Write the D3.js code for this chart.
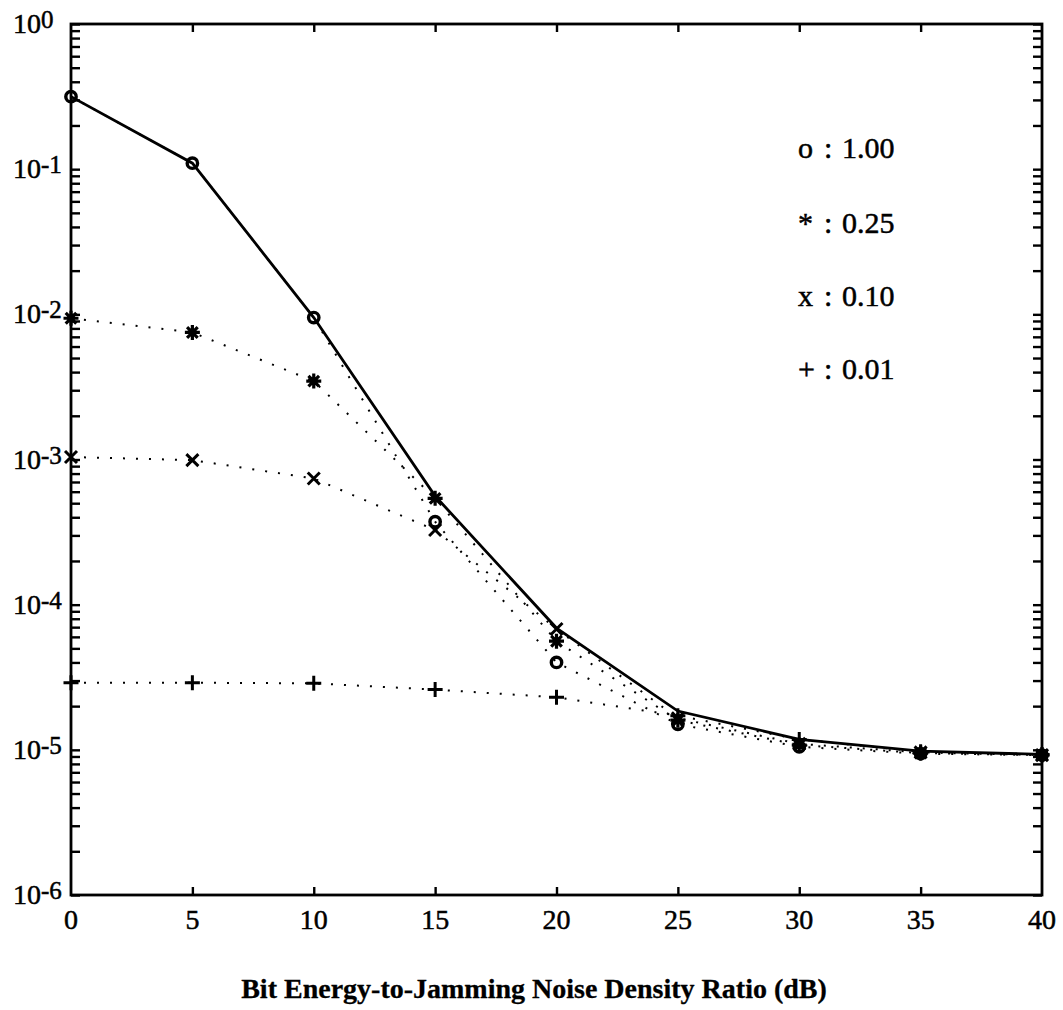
<!DOCTYPE html>
<html>
<head>
<meta charset="utf-8">
<script src="https://cdn.jsdelivr.net/npm/d3@7"></script>
<style>
  html, body { margin: 0; padding: 0; background: #fff; }
  svg { display: block; }
  text { font-family: "Liberation Serif", "Times New Roman", serif; fill: #000; stroke: #000; stroke-width: 0.5px; }
</style>
</head>
<body>
<svg id="chart" width="1063" height="1010"></svg>
<script>
// Eb/NJ in dB
const snrDb = [0, 5, 10, 15, 20, 25, 30, 35, 40];

// reference curve (solid)
const solidCurve = [0.316, 0.11, 0.0095, 0.00056, 6.9e-5, 1.85e-5, 1.18e-5, 9.8e-6, 9.3e-6];

// bit error rate for each jamming fraction rho (dotted)
const berRho100 = [0.316, 0.11, 0.0095, 0.000373, 4.0e-5, 1.5e-5, 1.05e-5, 9.4e-6, 9.2e-6];
const berRho025 = [0.0094, 0.0075, 0.00347, 0.00054, 5.6e-5, 1.6e-5, 1.08e-5, 9.5e-6, 9.2e-6];
const berRho010 = [0.00104, 0.00099, 0.00074, 0.000327, 6.8e-5, 1.65e-5, 1.1e-5, 9.6e-6, 9.2e-6];
const berRho001 = [2.9e-5, 2.9e-5, 2.87e-5, 2.6e-5, 2.3e-5, 1.72e-5, 1.18e-5, 9.7e-6, 9.3e-6];

const legendSymbols = ["o", "*", "x", "+"];
const legendValues = ["1.00", "0.25", "0.10", "0.01"];

const xTickValues = [0, 5, 10, 15, 20, 25, 30, 35, 40];
const yDecadeExps = [0, -1, -2, -3, -4, -5, -6];
const xAxisTitle = "Bit Energy-to-Jamming Noise Density Ratio (dB)";

const svg = d3.select("#chart");
const plotLeft = 71, plotRight = 1042, plotTop = 24, plotBottom = 895;

const x = d3.scaleLinear().domain([0, 40]).range([plotLeft, plotRight]);
const y = d3.scaleLog().domain([1e-6, 1]).range([plotBottom, plotTop]);

svg.append("rect").attr("width", 1063).attr("height", 1010).attr("fill", "#fff");

// minor + major log ticks
const yTicks = [];
for (let e = -6; e < 0; e++) {
  for (let k = 1; k <= 9; k++) yTicks.push(k * Math.pow(10, e));
}
yTicks.push(1);
const xInner = xTickValues.filter(v => v > 0 && v < 40);

const tickStyle = g => {
  g.select(".domain").remove();
  g.selectAll(".tick line").attr("stroke", "#000").attr("stroke-width", 2.4);
  g.selectAll(".tick text").remove();
};

svg.append("g").attr("transform", `translate(${plotLeft},0)`)
  .call(d3.axisLeft(y).tickValues(yTicks).tickSizeInner(-9).tickSizeOuter(0).tickFormat(""))
  .call(tickStyle);
svg.append("g").attr("transform", `translate(${plotRight},0)`)
  .call(d3.axisRight(y).tickValues(yTicks).tickSizeInner(-9).tickSizeOuter(0).tickFormat(""))
  .call(tickStyle);
svg.append("g").attr("transform", `translate(0,${plotBottom})`)
  .call(d3.axisBottom(x).tickValues(xInner).tickSizeInner(-8).tickSizeOuter(0).tickFormat(""))
  .call(tickStyle);
svg.append("g").attr("transform", `translate(0,${plotTop})`)
  .call(d3.axisTop(x).tickValues(xInner).tickSizeInner(-8).tickSizeOuter(0).tickFormat(""))
  .call(tickStyle);

// frame
svg.append("rect")
  .attr("x", plotLeft).attr("y", plotTop)
  .attr("width", plotRight - plotLeft).attr("height", plotBottom - plotTop)
  .attr("fill", "none").attr("stroke", "#000").attr("stroke-width", 2.8);

// y labels: 10 with raised exponent
const yl = svg.append("g");
yDecadeExps.forEach(e => {
  const t = yl.append("text")
    .attr("x", 13).attr("y", y(Math.pow(10, e)) + 9)
    .attr("font-size", 28);
  t.append("tspan").text("10");
  t.append("tspan").attr("dy", -5).attr("font-size", 25).text(String(e));
});

// x labels
svg.append("g").selectAll("text").data(xTickValues).join("text")
  .attr("x", d => x(d)).attr("y", 929)
  .attr("text-anchor", "middle").attr("font-size", 28)
  .text(d => d);

svg.append("text")
  .attr("x", 534).attr("y", 998)
  .attr("text-anchor", "middle").attr("font-size", 28).attr("font-weight", "bold")
  .style("stroke-width", "0.3px")
  .text(xAxisTitle);

// lines
const line = d3.line().x((d, i) => x(snrDb[i])).y(d => y(d));
const dotted = [berRho100, berRho025, berRho010, berRho001];
dotted.forEach(s => {
  svg.append("path").datum(s).attr("d", line)
    .attr("fill", "none").attr("stroke", "#000")
    .attr("stroke-width", 2).attr("stroke-dasharray", "2 11");
});
svg.append("path").datum(solidCurve).attr("d", line)
  .attr("fill", "none").attr("stroke", "#000").attr("stroke-width", 2.8);

// markers
const markerPath = {
  "*": () => {
    const p = d3.path(), r = 7.5;
    [0, 45, 90, 135].forEach(a => {
      const c = Math.cos(a * Math.PI / 180) * r, s = Math.sin(a * Math.PI / 180) * r;
      p.moveTo(-c, -s); p.lineTo(c, s);
    });
    return p;
  },
  x: () => {
    const p = d3.path(), r = 6;
    p.moveTo(-r, -r); p.lineTo(r, r); p.moveTo(-r, r); p.lineTo(r, -r);
    return p;
  },
  "+": () => {
    const p = d3.path(), r = 7.5;
    p.moveTo(-r, 0); p.lineTo(r, 0); p.moveTo(0, -r); p.lineTo(0, r);
    return p;
  }
};

dotted.forEach((s, si) => {
  const sym = legendSymbols[si];
  const g = svg.append("g");
  s.forEach((v, i) => {
    const cx = x(snrDb[i]), cy = y(v);
    if (sym === "o") {
      g.append("circle").attr("cx", cx).attr("cy", cy).attr("r", 5.2)
        .attr("fill", "none").attr("stroke", "#000").attr("stroke-width", 3.4);
    } else {
      g.append("path").attr("transform", `translate(${cx},${cy})`)
        .attr("d", markerPath[sym]().toString())
        .attr("fill", "none").attr("stroke", "#000")
        .attr("stroke-width", sym === "*" ? 3.2 : 3);
    }
  });
});

// legend
const legendY = [158, 233, 306, 379];
legendSymbols.forEach((s, i) => {
  const g = svg.append("g").attr("font-size", 30);
  g.append("text").attr("x", 798).attr("y", legendY[i]).text(s);
  g.append("text").attr("x", 824).attr("y", legendY[i]).text(":");
  g.append("text").attr("x", 842).attr("y", legendY[i]).text(legendValues[i]);
});
</script>
</body>
</html>
